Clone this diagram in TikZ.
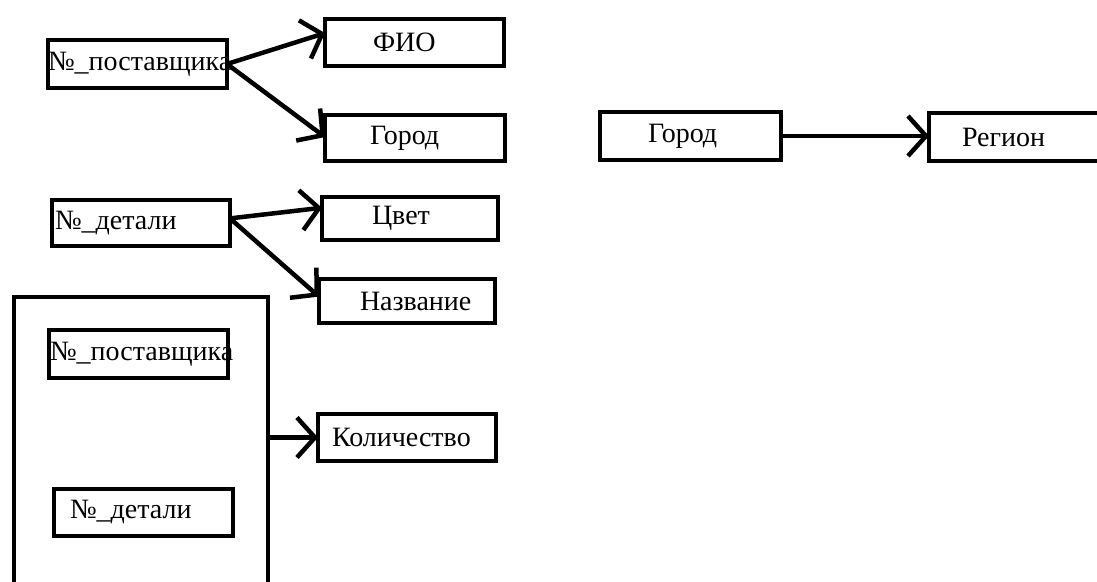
\documentclass[tikz,border=0pt]{standalone}
\usepackage{fontspec}
\setmainfont{Liberation Serif}
\usetikzlibrary{arrows.meta,calc}
\begin{document}
\begin{tikzpicture}[x=1pt,y=-1pt,
  bx/.style={draw, line width=4.5pt, inner ysep=0pt, align=left, outer sep=0pt,
    font=\fontsize{28}{32}\selectfont},
  con/.style={line width=4.5pt, -{Straight Barb[length=18pt,width=40pt,line width=4.5pt]}}]
\useasboundingbox (0,0) rectangle (1097,581);
% supplier group
\node[bx, minimum height=48pt, text width=179pt, inner xsep=0pt] (a1) at (137.5,64) {№\_поставщика};
\node[bx, minimum height=47pt, text width=83pt, inner xsep=48pt] (fio) at (414.5,42.5) {ФИО};
\node[bx, minimum height=46pt, text width=90pt, inner xsep=45pt] (gor1) at (415,138) {Город};
% city -> region
\node[bx, minimum height=48pt, text width=85pt, inner xsep=48pt] (gor2) at (690.5,136) {Город};
\node[bx, minimum height=48pt, text width=134pt, inner xsep=33pt] (reg) at (1029,137) {Регион};
% part group
\node[bx, minimum height=46pt, text width=172pt, inner xsep=3pt] (det1) at (141,223) {№\_детали};
\node[bx, minimum height=43pt, text width=76pt, inner xsep=50pt] (cvet) at (410,218.5) {Цвет};
\node[bx, minimum height=44pt, text width=94pt, inner xsep=41pt] (nazv) at (407,301) {Название};
% composite key
\node[draw, line width=4.5pt, minimum width=254pt, minimum height=303pt, inner sep=0pt, outer sep=0pt] (big) at (141,448.5) {};
\node[bx, minimum height=48pt, text width=177pt, inner xsep=1pt] (a2) at (138.5,354) {№\_поставщика};
\node[bx, minimum height=47pt, text width=147pt, inner xsep=16pt] (det2) at (143.5,512.5) {№\_детали};
\node[bx, minimum height=47pt, text width=150pt, inner xsep=14pt] (kol) at (407,437.5) {Количество};
% connectors
\draw[con] (a1.east) -- ($(fio.north west)!0.3!(fio.south west)$);
\draw[con] (a1.east) -- ($(gor1.north west)!0.48!(gor1.south west)$);
\draw[con] (gor2.east) -- (gor2.east -| reg.west);
\coordinate (ds) at ($(det1.north east)!0.4!(det1.south east)$);
\draw[con] (ds) -- ($(cvet.north west)!0.25!(cvet.south west)$);
\draw[con] (ds) -- ($(nazv.north west)!0.4!(nazv.south west)$);
\draw[con] (big.east |- kol.west) -- (kol.west);
\end{tikzpicture}
\end{document}
